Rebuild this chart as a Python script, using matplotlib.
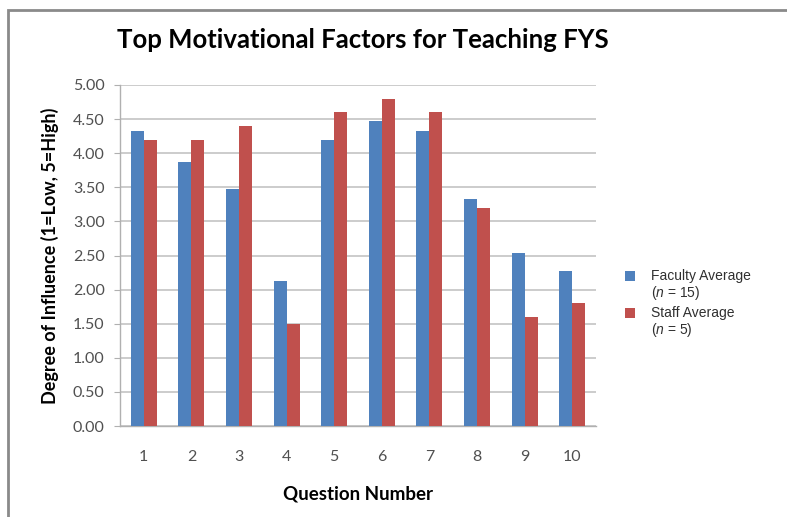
import numpy
import matplotlib
matplotlib.use("Agg")
from matplotlib import pyplot
from matplotlib.patches import Rectangle

questions = ["1", "2", "3", "4", "5", "6", "7", "8", "9", "10"]
faculty_avg = [4.33, 3.87, 3.47, 2.13, 4.20, 4.47, 4.33, 3.33, 2.53, 2.27]
staff_avg = [4.20, 4.20, 4.40, 1.50, 4.60, 4.80, 4.60, 3.20, 1.60, 1.80]
y_ticks = [0.0, 0.5, 1.0, 1.5, 2.0, 2.5, 3.0, 3.5, 4.0, 4.5, 5.0]
series_names = ["Faculty Average", "Staff Average"]
series_n = [15, 5]
series_colors = ['#4F81BD', '#C0504D']

pyplot.rcParams['font.family'] = ['Lato', 'DejaVu Sans']
pyplot.rcParams['mathtext.fontset'] = 'custom'
pyplot.rcParams['mathtext.it'] = 'Liberation Sans:italic'
pyplot.rcParams['mathtext.rm'] = 'Liberation Sans'

fig = pyplot.figure(figsize=(7.87, 5.17), dpi=100)
W, H = 787.0, 517.0
ax = fig.add_axes([120 / W, 1 - 426 / H, 476 / W, 341 / H])

# outer frame (only top and left edges visible)
fig.patches.append(Rectangle((8 / W, -0.1), 1.2, 1.1 - 10 / H,
                             transform=fig.transFigure, fill=False,
                             edgecolor='#8a8a8a', linewidth=2.0))

x = numpy.arange(len(questions))
w = 0.275
ax.bar(x - w / 2, faculty_avg, w, color=series_colors[0], zorder=3)
ax.bar(x + w / 2, staff_avg, w, color=series_colors[1], zorder=3)

ax.set_xlim(-0.5, len(questions) - 0.5)
ax.set_ylim(0, 5)
ax.set_yticks(y_ticks)
ax.set_yticklabels(["%.2f" % v for v in y_ticks])
ax.set_xticks(x)
ax.set_xticklabels(questions)
ax.yaxis.grid(True, color='#c4c4c4', linewidth=1.2, zorder=0)
ax.set_axisbelow(True)

for s in ['top', 'right']:
    ax.spines[s].set_visible(False)
for s in ['left', 'bottom']:
    ax.spines[s].set_color('#b0b0b0')
    ax.spines[s].set_linewidth(1.0)

ax.tick_params(axis='y', colors='#b0b0b0', length=4, labelcolor='#505050', labelsize=11.5, pad=7)
ax.tick_params(axis='x', length=0, labelcolor='#505050', labelsize=11.5, pad=17)

ax.set_xlabel('Question Number', fontsize=13.5, fontweight='bold', labelpad=16)
ax.set_ylabel('Degree of Influence (1=Low, 5=High)', fontsize=13, fontweight='bold', labelpad=10)
fig.text(363 / W, 1 - 40 / H, 'Top Motivational Factors for Teaching FYS',
         fontsize=18.5, fontweight='bold', ha='center', va='center')

# legend: square aligned with first line of each entry
leg_y = [276, 313]
for i in range(len(series_names)):
    y0 = leg_y[i]
    fig.patches.append(Rectangle((625 / W, 1 - (y0 + 5) / H), 10 / W, 10 / H,
                                 transform=fig.transFigure, facecolor=series_colors[i],
                                 edgecolor='none'))
    fig.text(651 / W, 1 - y0 / H, series_names[i], fontsize=10,
             family='Liberation Sans', color='#303030', va='center')
    fig.text(651 / W, 1 - (y0 + 17) / H, '($n$ = %d)' % series_n[i], fontsize=10,
             family='Liberation Sans', color='#303030', va='center')

fig.savefig('out.png', dpi=100, facecolor='white')
